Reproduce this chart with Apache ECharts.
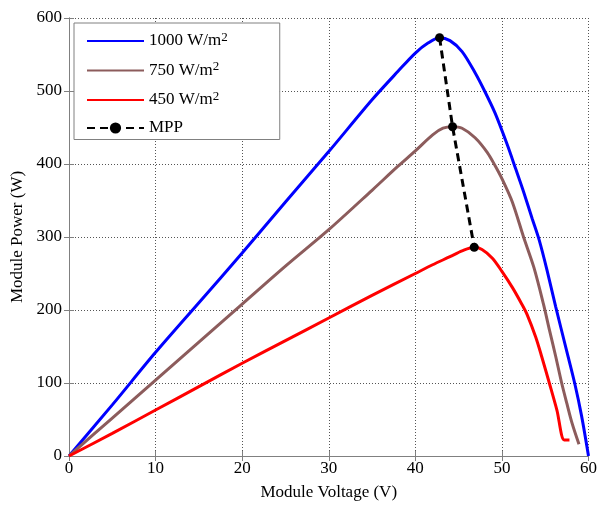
<!DOCTYPE html>
<html>
<head>
<meta charset="utf-8">
<script src="https://cdn.jsdelivr.net/npm/echarts@6/dist/echarts.min.js"></script>
<style>
  html, body { margin: 0; padding: 0; background: #fff; }
  #main { width: 600px; height: 506px; }
</style>
</head>
<body>
<div id="main"></div>
<script>
  // P-V curves: [voltage (V), power (W)]
  const irradiance = ['1000', '750', '450']
  const p1000 = [[0, 0], [5, 70], [10, 142], [15, 210], [20, 278], [25, 348], [30, 417], [35, 488], [38, 527], [40, 552], [41.5, 566], [42.8, 573], [44, 569], [45.4, 554], [46.9, 525], [48, 500], [49.2, 470], [50.6, 427], [51.6, 393], [52.5, 362], [53.5, 325], [54.3, 296], [55.2, 255], [56.2, 205], [57.5, 143], [58.4, 100], [59.2, 55], [60, 0]]
  const p750 = [[0, 0], [5, 52], [10, 104], [15, 156], [20, 208], [25, 260], [30, 310], [35, 364], [38, 397], [40, 418], [42, 440], [43.2, 449], [44.3, 451], [45.4, 449], [46.9, 436], [48.3, 416], [49.2, 398], [50, 380], [51.2, 348], [52.5, 300], [53.7, 258], [54.8, 208], [55.5, 172], [56.2, 137], [56.9, 100], [57.5, 72], [58.1, 45], [58.9, 16]]
  const p450 = [[0, 0], [5, 31], [10, 63], [15, 95], [20, 127], [25, 158], [30, 189], [35, 220], [40, 250], [42, 262], [44, 273], [45.4, 281], [46.8, 286], [47.7, 283], [48.9, 271], [50, 253], [51.2, 231], [52.3, 208], [52.9, 194], [53.9, 163], [54.6, 136], [55.5, 99], [56.35, 63], [57.2, 22], [57.8, 22]]
  const mpp = [[42.8, 573], [44.3, 451], [46.8, 286]]
  const colors = ['#0000ff', '#8c5c5c', '#ff0000']

  const FONT = 'Liberation Serif'
  const chart = echarts.init(document.getElementById('main'))

  const curve = (name, data, color) => ({
    name: name,
    type: 'line',
    data: data,
    symbol: 'none',
    smooth: 0.3,
    lineStyle: { color: color, width: 3 },
    itemStyle: { color: color },
    z: 3
  })

  const hiddenAxis = {
    min: 0,
    axisLine: { show: true, lineStyle: { color: '#808080' } },
    axisTick: { show: true, inside: true, length: 5, lineStyle: { color: '#808080' } },
    axisLabel: { show: false },
    splitLine: { show: false }
  }

  const seriesNames = irradiance.map(v => v + ' W/m2')

  chart.setOption({
    animation: false,
    backgroundColor: '#fff',
    grid: { left: 69, right: 2, top: 18, bottom: 46 },
    legend: {
      orient: 'vertical',
      left: 74,
      top: 23,
      padding: [8, 52, 3, 12],
      itemGap: 11,
      itemWidth: 57,
      itemHeight: 14,
      backgroundColor: '#fff',
      borderColor: '#808080',
      borderWidth: 1,
      // hide the circle ECharts puts on line-series legend icons
      data: seriesNames.map(n => ({ name: n, itemStyle: { opacity: 0 } })).concat([{ name: 'MPP' }]),
      formatter: function (name) {
        if (name === 'MPP') return '{a|MPP}'
        return '{a|' + name.slice(0, -1) + '}{s|2}'
      },
      textStyle: {
        fontFamily: FONT,
        color: '#000',
        rich: {
          a: { fontFamily: FONT, fontSize: 17, color: '#000', lineHeight: 20 },
          s: { fontFamily: FONT, fontSize: 13, color: '#000', verticalAlign: 'top', lineHeight: 20 }
        }
      }
    },
    xAxis: [{
      type: 'value',
      min: 0,
      max: 60,
      interval: 10,
      name: 'Module Voltage (V)',
      nameLocation: 'middle',
      nameGap: 28,
      nameTextStyle: { fontFamily: FONT, fontSize: 17, color: '#000' },
      axisLine: { show: true, onZero: false, lineStyle: { color: '#808080' } },
      axisTick: { show: true, inside: true, length: 5, lineStyle: { color: '#808080' } },
      axisLabel: { fontFamily: FONT, fontSize: 17, color: '#000', margin: 4, showMaxLabel: true },
      splitLine: { show: true, lineStyle: { color: '#555', type: [1, 2], width: 1 } }
    }, Object.assign({ type: 'value', position: 'top', max: 60, interval: 10 }, hiddenAxis)],
    yAxis: [{
      type: 'value',
      min: 0,
      max: 600,
      interval: 100,
      name: 'Module Power (W)',
      nameLocation: 'middle',
      nameGap: 39,
      nameTextStyle: { fontFamily: FONT, fontSize: 17, color: '#000' },
      axisLine: { show: true, onZero: false, lineStyle: { color: '#808080' } },
      axisTick: { show: true, inside: true, length: 5, lineStyle: { color: '#808080' } },
      axisLabel: { fontFamily: FONT, fontSize: 17, color: '#000', margin: 7 },
      splitLine: { show: true, lineStyle: { color: '#555', type: [1, 2], width: 1 } }
    }, Object.assign({ type: 'value', position: 'right', max: 600, interval: 100 }, hiddenAxis)],
    series: [
      curve(seriesNames[0], p1000, colors[0]),
      curve(seriesNames[1], p750, colors[1]),
      curve(seriesNames[2], p450, colors[2]),
      {
        name: 'MPP',
        type: 'line',
        data: mpp,
        symbol: 'circle',
        symbolSize: 9,
        lineStyle: { color: '#000', width: 3, type: [8, 5] },
        itemStyle: { color: '#000' },
        z: 4
      }
    ]
  })
</script>
</body>
</html>
